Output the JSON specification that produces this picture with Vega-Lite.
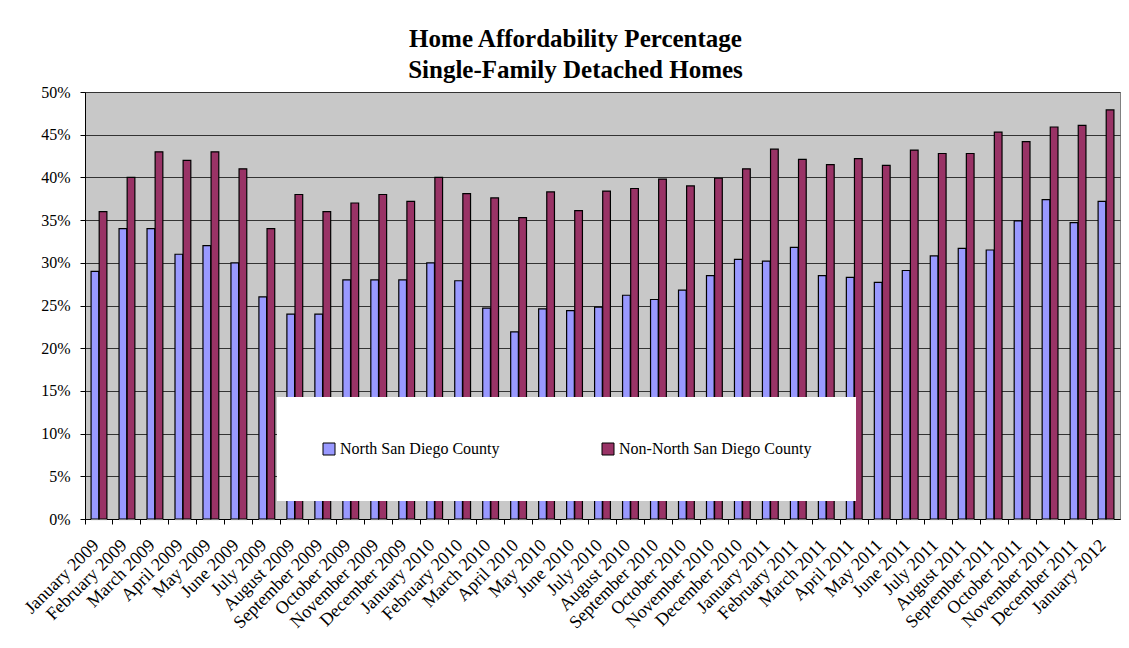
{
  "$schema": "https://vega.github.io/schema/vega-lite/v6.json",
  "width": 1035,
  "height": 427,
  "autosize": {"type": "none"},
  "padding": {"left": 85, "top": 92, "right": 9, "bottom": 129},
  "background": "white",
  "title": {
    "text": ["Home Affordability Percentage", "Single-Family Detached Homes"],
    "font": "Liberation Serif",
    "fontSize": 25,
    "fontWeight": "bold",
    "color": "black",
    "anchor": "middle",
    "dx": -27,
    "offset": 1,
    "lineHeight": 31
  },
  "data": {
    "values": [
      {"month": "January 2009", "series": "North San Diego County", "value": 0.29},
      {"month": "January 2009", "series": "Non-North San Diego County", "value": 0.36},
      {"month": "February 2009", "series": "North San Diego County", "value": 0.34},
      {"month": "February 2009", "series": "Non-North San Diego County", "value": 0.40},
      {"month": "March 2009", "series": "North San Diego County", "value": 0.34},
      {"month": "March 2009", "series": "Non-North San Diego County", "value": 0.43},
      {"month": "April 2009", "series": "North San Diego County", "value": 0.31},
      {"month": "April 2009", "series": "Non-North San Diego County", "value": 0.42},
      {"month": "May 2009", "series": "North San Diego County", "value": 0.32},
      {"month": "May 2009", "series": "Non-North San Diego County", "value": 0.43},
      {"month": "June 2009", "series": "North San Diego County", "value": 0.30},
      {"month": "June 2009", "series": "Non-North San Diego County", "value": 0.41},
      {"month": "July 2009", "series": "North San Diego County", "value": 0.26},
      {"month": "July 2009", "series": "Non-North San Diego County", "value": 0.34},
      {"month": "August 2009", "series": "North San Diego County", "value": 0.24},
      {"month": "August 2009", "series": "Non-North San Diego County", "value": 0.38},
      {"month": "September 2009", "series": "North San Diego County", "value": 0.24},
      {"month": "September 2009", "series": "Non-North San Diego County", "value": 0.36},
      {"month": "October 2009", "series": "North San Diego County", "value": 0.28},
      {"month": "October 2009", "series": "Non-North San Diego County", "value": 0.37},
      {"month": "November 2009", "series": "North San Diego County", "value": 0.28},
      {"month": "November 2009", "series": "Non-North San Diego County", "value": 0.38},
      {"month": "December 2009", "series": "North San Diego County", "value": 0.28},
      {"month": "December 2009", "series": "Non-North San Diego County", "value": 0.372},
      {"month": "January 2010", "series": "North San Diego County", "value": 0.30},
      {"month": "January 2010", "series": "Non-North San Diego County", "value": 0.40},
      {"month": "February 2010", "series": "North San Diego County", "value": 0.279},
      {"month": "February 2010", "series": "Non-North San Diego County", "value": 0.381},
      {"month": "March 2010", "series": "North San Diego County", "value": 0.247},
      {"month": "March 2010", "series": "Non-North San Diego County", "value": 0.376},
      {"month": "April 2010", "series": "North San Diego County", "value": 0.219},
      {"month": "April 2010", "series": "Non-North San Diego County", "value": 0.353},
      {"month": "May 2010", "series": "North San Diego County", "value": 0.246},
      {"month": "May 2010", "series": "Non-North San Diego County", "value": 0.383},
      {"month": "June 2010", "series": "North San Diego County", "value": 0.244},
      {"month": "June 2010", "series": "Non-North San Diego County", "value": 0.361},
      {"month": "July 2010", "series": "North San Diego County", "value": 0.248},
      {"month": "July 2010", "series": "Non-North San Diego County", "value": 0.384},
      {"month": "August 2010", "series": "North San Diego County", "value": 0.262},
      {"month": "August 2010", "series": "Non-North San Diego County", "value": 0.387},
      {"month": "September 2010", "series": "North San Diego County", "value": 0.257},
      {"month": "September 2010", "series": "Non-North San Diego County", "value": 0.398},
      {"month": "October 2010", "series": "North San Diego County", "value": 0.268},
      {"month": "October 2010", "series": "Non-North San Diego County", "value": 0.390},
      {"month": "November 2010", "series": "North San Diego County", "value": 0.285},
      {"month": "November 2010", "series": "Non-North San Diego County", "value": 0.399},
      {"month": "December 2010", "series": "North San Diego County", "value": 0.304},
      {"month": "December 2010", "series": "Non-North San Diego County", "value": 0.410},
      {"month": "January 2011", "series": "North San Diego County", "value": 0.302},
      {"month": "January 2011", "series": "Non-North San Diego County", "value": 0.433},
      {"month": "February 2011", "series": "North San Diego County", "value": 0.318},
      {"month": "February 2011", "series": "Non-North San Diego County", "value": 0.421},
      {"month": "March 2011", "series": "North San Diego County", "value": 0.285},
      {"month": "March 2011", "series": "Non-North San Diego County", "value": 0.415},
      {"month": "April 2011", "series": "North San Diego County", "value": 0.283},
      {"month": "April 2011", "series": "Non-North San Diego County", "value": 0.422},
      {"month": "May 2011", "series": "North San Diego County", "value": 0.277},
      {"month": "May 2011", "series": "Non-North San Diego County", "value": 0.414},
      {"month": "June 2011", "series": "North San Diego County", "value": 0.291},
      {"month": "June 2011", "series": "Non-North San Diego County", "value": 0.432},
      {"month": "July 2011", "series": "North San Diego County", "value": 0.308},
      {"month": "July 2011", "series": "Non-North San Diego County", "value": 0.428},
      {"month": "August 2011", "series": "North San Diego County", "value": 0.317},
      {"month": "August 2011", "series": "Non-North San Diego County", "value": 0.428},
      {"month": "September 2011", "series": "North San Diego County", "value": 0.315},
      {"month": "September 2011", "series": "Non-North San Diego County", "value": 0.453},
      {"month": "October 2011", "series": "North San Diego County", "value": 0.349},
      {"month": "October 2011", "series": "Non-North San Diego County", "value": 0.442},
      {"month": "November 2011", "series": "North San Diego County", "value": 0.374},
      {"month": "November 2011", "series": "Non-North San Diego County", "value": 0.459},
      {"month": "December 2011", "series": "North San Diego County", "value": 0.347},
      {"month": "December 2011", "series": "Non-North San Diego County", "value": 0.461},
      {"month": "January 2012", "series": "North San Diego County", "value": 0.372},
      {"month": "January 2012", "series": "Non-North San Diego County", "value": 0.479}
    ]
  },
  "encoding": {
    "x": {
      "field": "month",
      "type": "nominal",
      "sort": null,
      "scale": {"paddingInner": 0, "paddingOuter": 0},
      "axis": {
        "title": null,
        "bandPosition": 0,
        "labelAngle": -45,
        "labelAlign": "right",
        "labelBaseline": "top",
        "labelFont": "Liberation Serif",
        "labelFontSize": 18,
        "labelColor": "black",
        "labelPadding": 12,
        "labelOffset": -9,
        "labelOverlap": false,
        "labelLimit": 0,
        "domainColor": "black",
        "domainWidth": 1,
        "tickColor": "black",
        "tickSize": 5,
        "grid": false
      }
    },
    "xOffset": {
      "field": "series",
      "sort": ["North San Diego County", "Non-North San Diego County"],
      "scale": {"paddingInner": 0.05, "paddingOuter": 0.75}
    },
    "y": {
      "field": "value",
      "type": "quantitative",
      "scale": {"domain": [0, 0.5]},
      "axis": {
        "title": null,
        "values": [0, 0.05, 0.1, 0.15, 0.2, 0.25, 0.3, 0.35, 0.4, 0.45, 0.5],
        "format": ".0%",
        "grid": true,
        "gridColor": "#333333",
        "gridWidth": 1,
        "domainColor": "black",
        "tickColor": "black",
        "tickSize": 5,
        "labelFont": "Liberation Serif",
        "labelFontSize": 16,
        "labelColor": "black",
        "labelPadding": 10
      }
    }
  },
  "layer": [
    {
      "mark": {"type": "bar", "fill": "#f2f2f2", "xOffset": 3, "yOffset": 2, "strokeWidth": 0}
    },
    {
      "mark": {"type": "bar", "stroke": "black", "strokeWidth": 1.2},
      "encoding": {
        "color": {
          "field": "series",
          "type": "nominal",
          "scale": {
            "domain": ["North San Diego County", "Non-North San Diego County"],
            "range": ["#9999FF", "#993366"]
          },
          "legend": {
            "title": null,
            "orient": "none",
            "legendX": 192,
            "legendY": 305,
            "direction": "horizontal",
            "columns": 2,
            "columnPadding": 100,
            "padding": 44,
            "fillColor": "white",
            "symbolType": "square",
            "symbolSize": 144,
            "symbolStrokeColor": "black",
            "symbolStrokeWidth": 1,
            "symbolOpacity": 1,
            "labelFont": "Liberation Serif",
            "labelFontSize": 16,
            "labelColor": "black",
            "labelOffset": 3,
            "labelLimit": 0
          }
        }
      }
    }
  ],
  "config": {
    "view": {"fill": "#C8C8C8", "stroke": "#808080", "strokeWidth": 1}
  }
}
